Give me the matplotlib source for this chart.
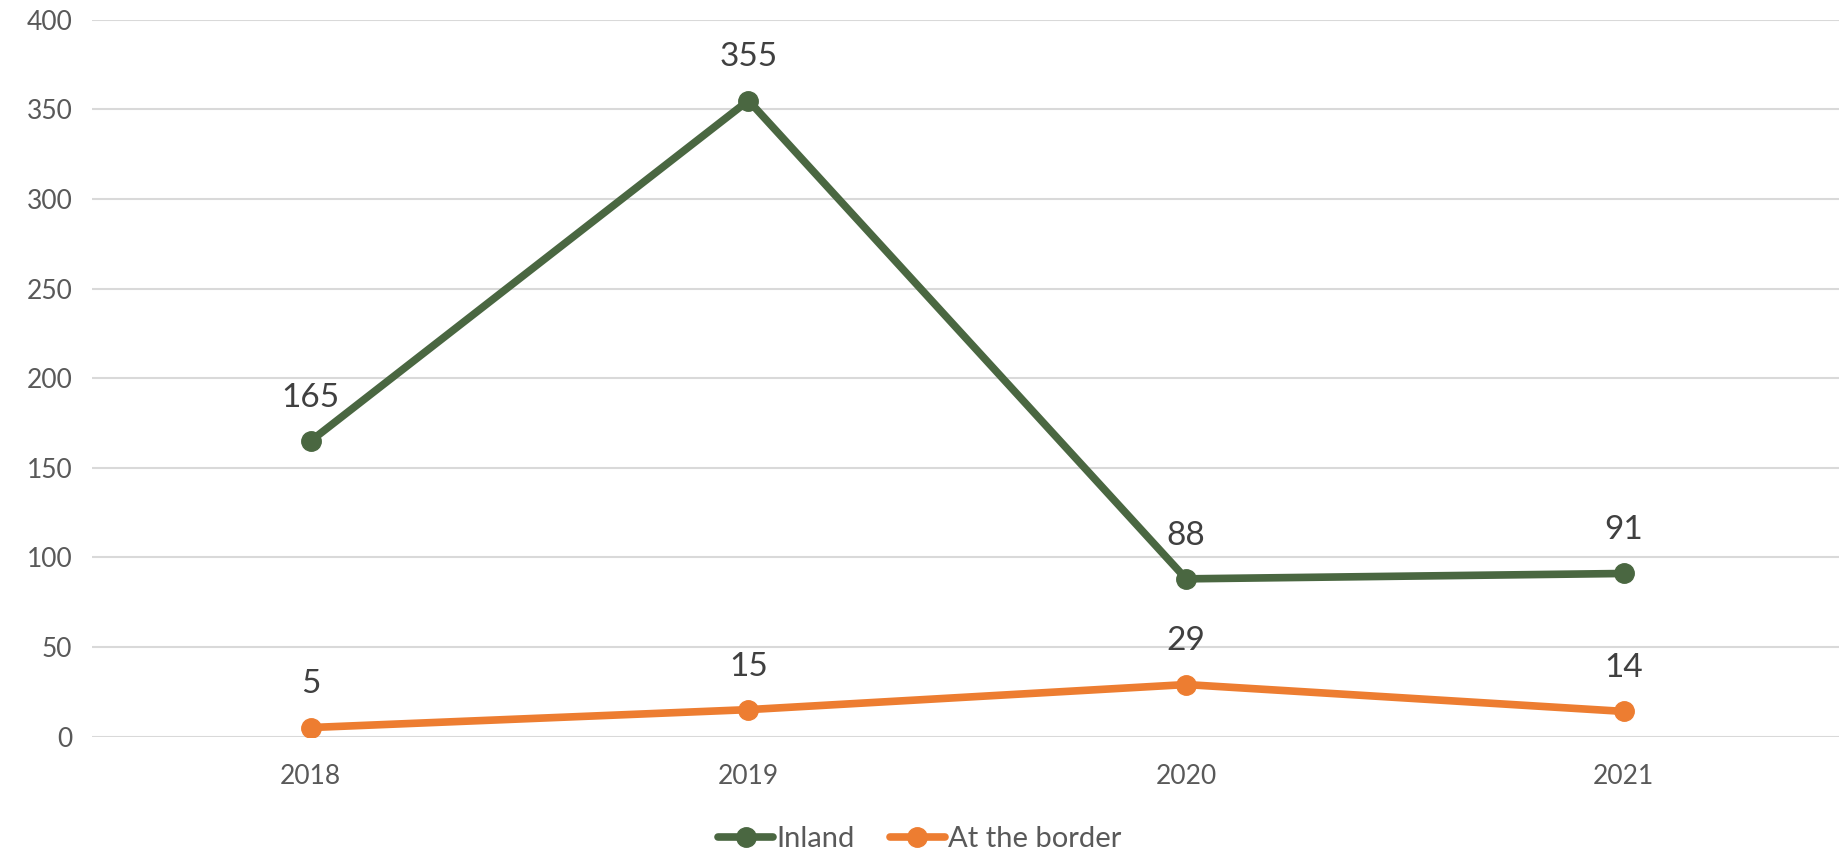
import matplotlib.pyplot as plt

years = ['2018', '2019', '2020', '2021']
inland = [165, 355, 88, 91]
border = [5, 15, 29, 14]

green = '#4A6741'
orange = '#ED7D31'
plt.rcParams['font.family'] = ['Lato', 'DejaVu Sans']

fig = plt.figure(figsize=(18.39, 8.57), dpi=100)
ax = fig.add_axes([0.050, 0.1406, 0.952, 0.8362])

x = range(len(years))
ax.plot(x, inland, color=green, lw=5.5, marker='o', ms=14, label='Inland', solid_capstyle='round')
ax.plot(x, border, color=orange, lw=5.5, marker='o', ms=14, label='At the border', solid_capstyle='round')

# data labels above each point
for xs, vals in [(x, inland), (x, border)]:
    for xi, v in zip(xs, vals):
        ax.annotate(str(v), (xi, v), xytext=(0, 31), textcoords='offset points',
                    ha='center', va='center', fontsize=24, color='#404040')

ax.set_xlim(-0.5, 3.5)
ax.set_ylim(0, 400)
ax.set_yticks(range(0, 401, 50))
ax.set_xticks(list(x))
ax.set_xticklabels(years)
ax.grid(axis='y', color='#D9D9D9', lw=1.5)
ax.set_axisbelow(True)
for s in ax.spines.values():
    s.set_visible(False)
ax.tick_params(axis='both', length=0, labelsize=19, colors='#595959', pad=14)
ax.tick_params(axis='x', pad=20)

fig.legend(loc='lower center', bbox_to_anchor=(0.5, -0.025), ncol=2, frameon=False,
           fontsize=21, labelcolor='#595959', handlelength=1.9, handletextpad=0.1,
           columnspacing=1.2)

fig.savefig('out.png', dpi=100)
